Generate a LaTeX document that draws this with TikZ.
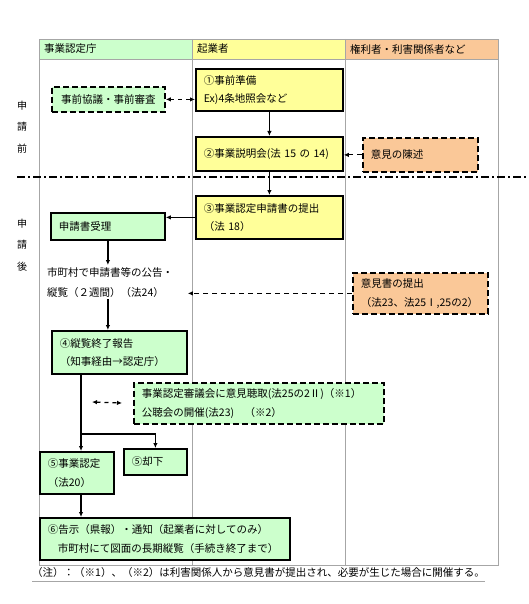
\documentclass[tikz,border=0pt]{standalone}
\usepackage{fontspec}
\setmainfont{Noto Sans CJK JP}
\usetikzlibrary{arrows.meta}
\definecolor{lgreen}{HTML}{CCFFCC}
\definecolor{lyellow}{HTML}{FFFF99}
\definecolor{lorange}{HTML}{FAC898}
\definecolor{gridgray}{HTML}{A6A6A6}
\tikzset{
  box/.style={draw=black, line width=1.8pt, inner xsep=8pt, inner ysep=2pt,
    align=left, anchor=north west, font=\fontsize{10.5}{18.5}\selectfont},
  dbox/.style={box, dash pattern=on 6pt off 3pt},
  txt/.style={inner sep=2pt, align=left, anchor=north west, font=\fontsize{10.5}{20}\selectfont},
  head/.style={anchor=west, inner sep=0pt, font=\fontsize{10.5}{12}\selectfont},
  side/.style={align=center, inner sep=0pt, font=\fontsize{10}{21.5}\selectfont},
  arr/.style={line width=1.2pt, -{Latex[length=5pt,width=4.5pt]}},
  darr/.style={arr, dash pattern=on 5pt off 4pt},
  dblarr/.style={line width=1.2pt, dash pattern=on 4pt off 4pt,
    {Latex[length=5pt,width=4.5pt]}-{Latex[length=5pt,width=4.5pt]}},
}
\begin{document}
\begin{tikzpicture}[x=1pt,y=-1pt]
  \useasboundingbox (0,0) rectangle (529,604);

  % table
  \fill[lgreen] (39,39) rectangle (192,59);
  \fill[lyellow] (192,39) rectangle (345,59);
  \fill[lorange] (345,39) rectangle (498,59);
  \draw[gridgray, line width=0.8pt] (39,39) rectangle (498,565);
  \draw[gridgray, line width=0.8pt] (39,59) -- (498,59);
  \foreach \x in {192,345}
    \draw[gridgray, line width=0.8pt] (\x,39) -- (\x,565);

  \node[head] (h1) at (44,49) {事業認定庁};
  \node[head] (h2) at (197,49) {起業者};
  \node[head] (h3) at (350,49) {権利者・利害関係者など};

  \node[side] (pre) at (22,127) {申\\請\\前};
  \node[side] (post) at (22,245) {申\\請\\後};

  \draw[line width=1.3pt, dash pattern=on 8pt off 3pt on 2pt off 3pt] (17,177) -- (529,177);

  % boxes
  \node[box, fill=lyellow, minimum width=147pt, minimum height=42pt, text width=131pt] (prep) at (195,68) {①事前準備\\Ex)4条地照会など};
  \node[dbox, fill=lgreen, minimum width=113pt, minimum height=25pt, text width=97pt, align=center] (consult) at (51,86) {事前協議・事前審査};
  \node[box, fill=lyellow, minimum width=147pt, minimum height=34pt, text width=131pt] (brief) at (195,136) {②事業説明会(法 15 の 14)};
  \node[dbox, fill=lorange, minimum width=115pt, minimum height=34pt, text width=99pt] (statement) at (362,137) {意見の陳述};
  \node[box, fill=lyellow, minimum width=147pt, minimum height=43pt, text width=131pt] (apply) at (195,195) {③事業認定申請書の提出\\（法 18）};
  \node[box, fill=lgreen, minimum width=114pt, minimum height=27pt, text width=98pt] (receipt) at (50,212) {申請書受理};
  \node[txt] (notice) at (45,265) {市町村で申請書等の公告・\\縦覧（２週間）（法24）};
  \node[dbox, fill=lorange, minimum width=135pt, minimum height=41pt, text width=119pt] (opinion) at (352,272) {意見書の提出\\（法23、法25Ⅰ,25の2）};
  \node[box, fill=lgreen, minimum width=135pt, minimum height=43pt, text width=119pt] (report) at (51,330) {④縦覧終了報告\\（知事経由→認定庁）};
  \node[dbox, fill=lgreen, minimum width=250pt, minimum height=41pt, text width=234pt] (council) at (133,382) {事業認定審議会に意見聴取(法25の2Ⅱ)（※1）\\公聴会の開催(法23)　（※2）};
  \node[box, fill=lgreen, minimum width=74pt, minimum height=42pt, text width=58pt] (approve) at (39,451) {⑤事業認定\\（法20）};
  \node[box, fill=lgreen, minimum width=63pt, minimum height=26pt, text width=47pt] (reject) at (123,448) {⑤却下};
  \node[box, fill=lgreen, minimum width=250pt, minimum height=42pt, text width=234pt] (notify) at (39,517) {⑥告示（県報）・通知（起業者に対してのみ）\\\hspace*{10pt}市町村にて図面の長期縦覧（手続き終了まで）};

  \node[anchor=west, inner sep=0pt, font=\fontsize{10.5}{12}\selectfont] (note) at (32,573) {（注）：（※1）、（※2）は利害関係人から意見書が提出され、必要が生じた場合に開催する。};
  \draw[gridgray, line width=0.6pt] ([yshift=-3pt]note.south west) -- ([yshift=-3pt]note.south east);

  % connectors
  \draw[dblarr] (consult.east) -- (consult.east -| prep.west);
  \draw[arr] (prep.south) -- (brief.north);
  \draw[darr] (statement.west) -- (statement.west -| brief.east);
  \draw[arr] (brief.south) -- (apply.north);
  \draw[arr] (apply.west) -- (apply.west -| receipt.east);
  \draw[arr] (receipt.south) -- (receipt.south |- notice.north);
  \draw[darr] (opinion.west) -- (opinion.west -| report.east);
  \draw[arr] (receipt.south |- notice.south) -- (receipt.south |- report.north);

  \coordinate (branch) at (81,434);
  \coordinate (cside) at (92,402);
  \draw[line width=1.2pt] (report.south -| branch) -- (branch);
  \draw[arr] (branch) -- (branch |- approve.north);
  \draw[arr] (branch) -| (reject.north);
  \draw[dblarr, shorten >=11pt] (cside) -- (council.west);
  \draw[arr] (approve.south -| branch) -- (branch |- notify.north);
\end{tikzpicture}
\end{document}
